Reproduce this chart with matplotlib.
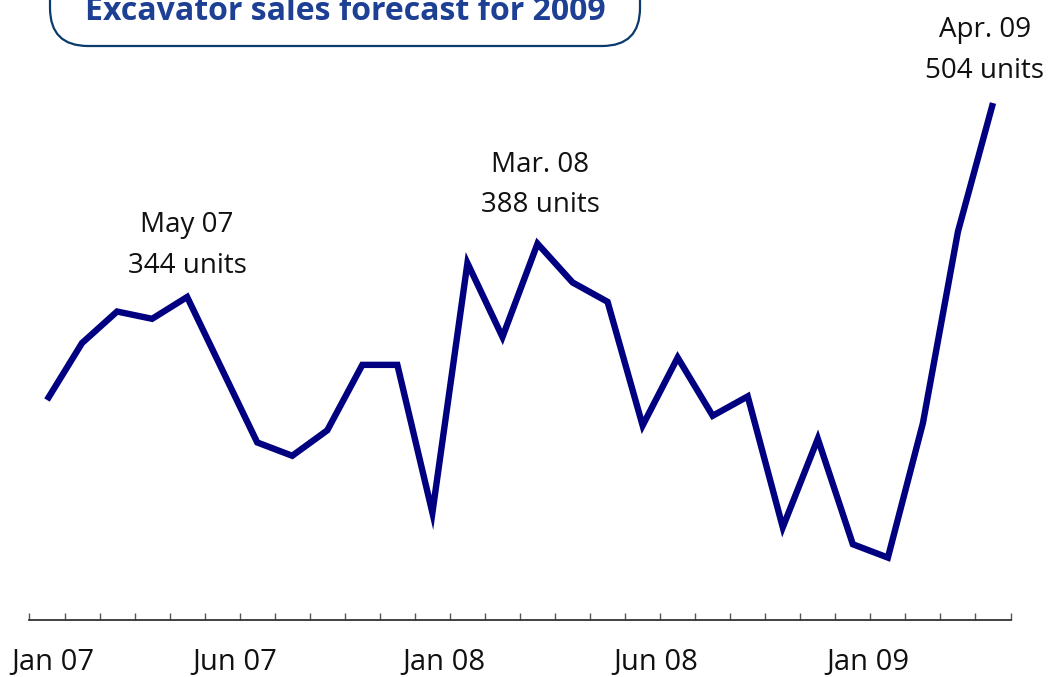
import matplotlib
matplotlib.use("Agg")
import matplotlib.pyplot as plt
from matplotlib.patches import FancyBboxPatch
from matplotlib.transforms import Affine2D

# Monthly excavator sales, Jan 2007 - Apr 2009 (units)
months = ["Jan 07", "Feb 07", "Mar 07", "Apr 07", "May 07", "Jun 07", "Jul 07",
          "Aug 07", "Sep 07", "Oct 07", "Nov 07", "Dec 07", "Jan 08", "Feb 08",
          "Mar 08", "Apr 08", "May 08", "Jun 08", "Jul 08", "Aug 08", "Sep 08",
          "Oct 08", "Nov 08", "Dec 08", "Jan 09", "Feb 09", "Mar 09", "Apr 09"]
units = [259, 306, 332, 326, 344, 284, 224, 213, 234, 288, 288, 166, 372, 311,
         388, 356, 340, 238, 294, 246, 262, 154, 227, 140, 129, 240, 398, 504]

# Labelled peaks: (month index, first label line)
peaks = [(4, "May 07"), (14, "Mar. 08"), (27, "Apr. 09")]
axis_labels = ["Jan 07", "Jun 07", "Jan 08", "Jun 08", "Jan 09"]
axis_label_pos = [0.17, 5.37, 11.34, 17.37, 23.43]

title = "Excavator sales forecast for 2009"

NAVY = "#000080"
TITLE_BLUE = "#1d3f94"
FONT = "Open Sans"

fig = plt.figure(figsize=(10.52, 6.77), dpi=100)
ax = fig.add_axes([0, 0, 1, 1])
ax.set_xlim(-1.341, 28.684)
ax.set_ylim(30.5, 589.0)

x = list(range(len(units)))
ax.plot(x, units, color=NAVY, lw=4.6, solid_capstyle="butt",
        solid_joinstyle="miter", zorder=3)

# Peak annotations
offsets = {4: (0, 12.5), 14: (2, 17.5), 27: (-6, 13)}
for idx, head in peaks:
    ax.annotate(f"{head}\n{units[idx]} units", xy=(idx, units[idx]),
                xytext=offsets[idx], textcoords="offset points",
                ha="center", va="bottom", fontsize=20, family=FONT,
                color="#111111", linespacing=1.6)

# Time axis: bottom spine with month boundary ticks
for side in ("left", "right", "top"):
    ax.spines[side].set_visible(False)
ax.spines["bottom"].set_position(("data", 77.5))
ax.spines["bottom"].set_bounds(-0.5, 27.5)
ax.spines["bottom"].set_color("#333333")
ax.spines["bottom"].set_linewidth(1.3)
ax.set_yticks([])
ax.set_xticks([i - 0.5 for i in range(len(units) + 1)], minor=True)
ax.tick_params(axis="x", which="minor", direction="in", length=5,
               width=1.0, color="#555555")
ax.set_xticks(axis_label_pos)
ax.set_xticklabels(axis_labels, fontsize=21, family=FONT, color="#111111")
ax.tick_params(axis="x", which="major", length=0, pad=20)

# Rounded title box, running off the top edge
box = FancyBboxPatch((50, -50), 590, 96, boxstyle="round,pad=0,rounding_size=38",
                     facecolor="white", edgecolor="#0b3a6c",
                     linewidth=1.6, zorder=5)
box.set_transform(Affine2D().scale(1, -1).translate(0, 677))
fig.patches.append(box)
fig.text(345 / 1052, 1 - 20 / 677, title, ha="center", va="baseline",
         fontsize=23, fontweight="bold", family=FONT, color=TITLE_BLUE, zorder=6)

fig.savefig("out.png", dpi=100)
